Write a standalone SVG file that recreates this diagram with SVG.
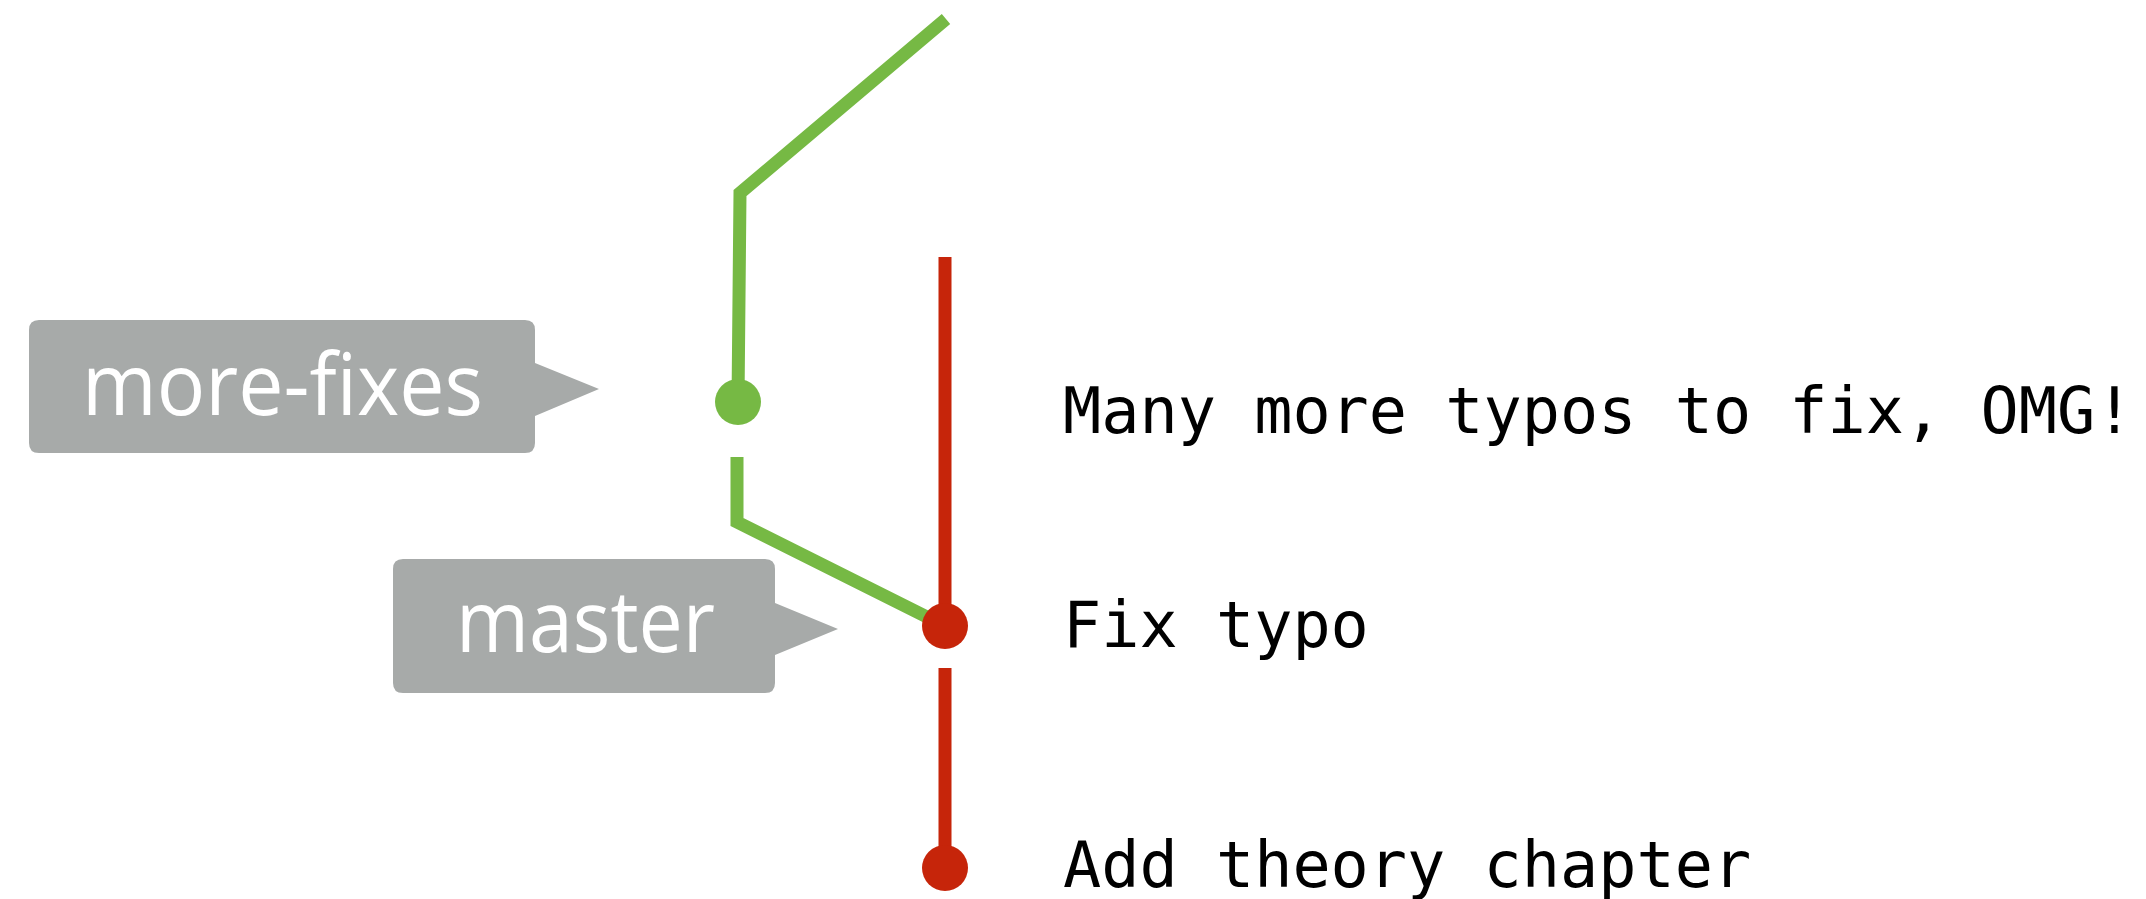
<svg xmlns="http://www.w3.org/2000/svg" width="2146" height="899" viewBox="0 0 2146 899">
  <style>
    .branch-green { fill: none; stroke: #76B944; stroke-width: 13; stroke-linejoin: miter; }
    .branch-red { fill: none; stroke: #C6250A; stroke-width: 13; }
    .dot-green { fill: #76B944; }
    .dot-red { fill: #C6250A; }
    .tag { fill: #A7AAA9; }
    .tag-text { fill: #FFFFFF; font-family: "Open Sans", "Noto Sans", sans-serif; font-size: 86px; }
    .msg { fill: #000000; font-family: "DejaVu Sans Mono", "Liberation Mono", monospace; font-size: 63.5px; }
  </style>
  <rect width="2146" height="899" fill="#FFFFFF"/>

  <g id="connectors">
    <!-- more-fixes history coming in from above -->
    <polyline class="branch-green" points="946,19 740,193 738,402"/>
    <!-- more-fixes parent link down to Fix typo -->
    <polyline class="branch-green" points="737,457 737,522 945,626"/>
    <!-- master line -->
    <line class="branch-red" x1="945" y1="257" x2="945" y2="626"/>
    <line class="branch-red" x1="945" y1="668" x2="945" y2="868"/>
  </g>

  <g id="commit-many-more-typos">
    <circle class="dot-green" cx="738" cy="402" r="23"/>
    <text class="msg" x="1063" y="433">Many more typos to fix, OMG!</text>
  </g>

  <g id="commit-fix-typo">
    <circle class="dot-red" cx="945" cy="626" r="23"/>
    <text class="msg" x="1063" y="647">Fix typo</text>
  </g>

  <g id="commit-add-theory">
    <circle class="dot-red" cx="945" cy="868" r="23"/>
    <text class="msg" x="1063" y="887">Add theory chapter</text>
  </g>

  <g id="label-more-fixes">
    <path class="tag" d="M39,320 H525 Q535,320 535,330 V363 L599,389 L535,416 V443 Q535,453 525,453 H39 Q29,453 29,443 V330 Q29,320 39,320 Z"/>
    <text class="tag-text" x="82" y="415" textLength="401" lengthAdjust="spacingAndGlyphs">more-fixes</text>
  </g>

  <g id="label-master">
    <path class="tag" d="M403,559 H765 Q775,559 775,569 V603 L838,629 L775,655 V683 Q775,693 765,693 H403 Q393,693 393,683 V569 Q393,559 403,559 Z"/>
    <text class="tag-text" x="456" y="652" textLength="259" lengthAdjust="spacingAndGlyphs">master</text>
  </g>
</svg>
